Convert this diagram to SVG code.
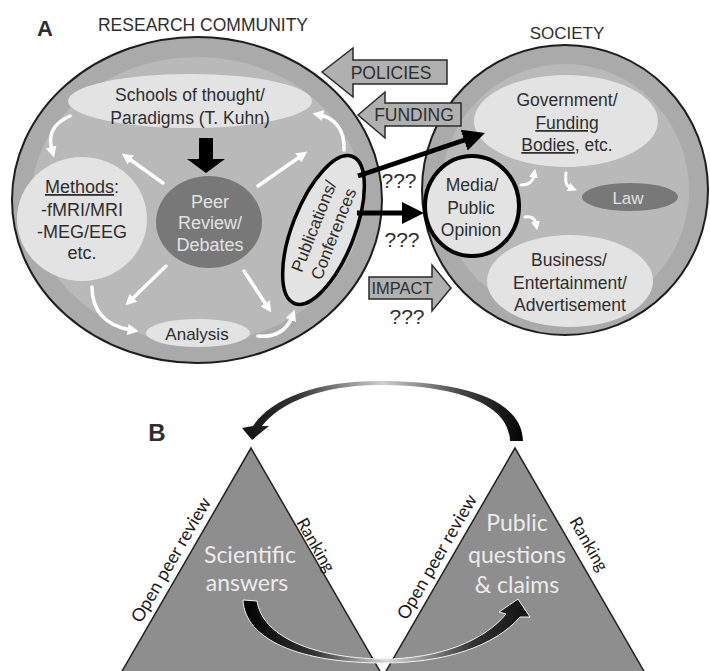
<svg xmlns="http://www.w3.org/2000/svg" width="710" height="671" viewBox="0 0 710 671">
<defs>
<style>
.t{font-family:"Liberation Sans",Arial,sans-serif;fill:#2e2e2e;text-anchor:middle}
.tl{font-family:"Liberation Sans",Arial,sans-serif;fill:#e2e2e2;text-anchor:middle}
.c{font-family:Lato,"Open Sans",sans-serif;text-anchor:middle}
.light{fill:#e3e3e3}
.dark{fill:#787878}
.wa{fill:none;stroke:#fff;stroke-width:3.5;stroke-linecap:round;marker-end:url(#wh)}
.ws{fill:none;stroke:#fff;stroke-width:3;stroke-linecap:round;marker-end:url(#wh2)}
.ba{fill:#b0b0b0;stroke:#2a2a2a;stroke-width:1.5}
.bl{stroke:#000;stroke-width:5;fill:none;marker-end:url(#bk)}
.tri{fill:#8e8e8e;stroke:#222;stroke-width:1.5}
.u{text-decoration:underline}
</style>
<marker id="wh" viewBox="0 0 10 10" refX="3" refY="5" markerWidth="11" markerHeight="11" markerUnits="userSpaceOnUse" orient="auto"><path d="M0,0 L10,5 L0,10 z" fill="#fff"/></marker>
<marker id="wh2" viewBox="0 0 10 10" refX="3" refY="5" markerWidth="9" markerHeight="9" markerUnits="userSpaceOnUse" orient="auto"><path d="M0,0 L10,5 L0,10 z" fill="#fff"/></marker>
<marker id="bk" viewBox="0 0 22 22" refX="2" refY="11" markerWidth="22" markerHeight="22" markerUnits="userSpaceOnUse" orient="auto"><path d="M0,0 L22,11 L0,22 z" fill="#000"/></marker>
<linearGradient id="gTop" gradientUnits="userSpaceOnUse" x1="240" y1="0" x2="525" y2="0">
<stop offset="0" stop-color="#111"/><stop offset="0.2" stop-color="#333"/><stop offset="0.5" stop-color="#cfcfcf"/><stop offset="0.78" stop-color="#444"/><stop offset="1" stop-color="#000"/>
</linearGradient>
<linearGradient id="gBot" gradientUnits="userSpaceOnUse" x1="243" y1="0" x2="530" y2="0">
<stop offset="0" stop-color="#000"/><stop offset="0.25" stop-color="#333"/><stop offset="0.5" stop-color="#d8d8d8"/><stop offset="0.8" stop-color="#333"/><stop offset="1" stop-color="#111"/>
</linearGradient>
</defs>
<rect width="710" height="671" fill="#fff"/>

<text class="t" x="45" y="36" font-size="22" font-weight="bold" fill="#111">A</text>
<text class="t" x="203" y="31" font-size="17.5">RESEARCH COMMUNITY</text>
<text class="t" x="567" y="39" font-size="17">SOCIETY</text>

<g id="research-community">
<ellipse cx="197" cy="200" rx="185" ry="163" fill="#aaaaaa" stroke="#1e1e1e" stroke-width="2"/>
<ellipse cx="197" cy="200" rx="166" ry="143" fill="#b9b9b9"/>
</g>
<g id="society">
<ellipse cx="565" cy="190" rx="143" ry="145" fill="#aaaaaa" stroke="#1e1e1e" stroke-width="2"/>
<ellipse cx="565" cy="190" rx="124" ry="126" fill="#b9b9b9"/>
</g>

<g id="schools">
<ellipse class="light" cx="190" cy="101" rx="122" ry="27"/>
<text class="t" x="190" y="101" font-size="17.5">Schools of thought/</text>
<text class="t" x="190" y="124" font-size="17.5">Paradigms (T. Kuhn)</text>
</g>
<g id="methods">
<ellipse class="light" cx="82" cy="219" rx="65" ry="62"/>
<text class="t" x="82" y="193" font-size="18"><tspan class="u">Methods</tspan>:</text>
<text class="t" x="82" y="216" font-size="18">-fMRI/MRI</text>
<text class="t" x="82" y="238" font-size="18">-MEG/EEG</text>
<text class="t" x="82" y="259" font-size="18">etc.</text>
</g>
<g id="peer-review">
<ellipse class="dark" cx="209" cy="222" rx="53" ry="46"/>
<text class="tl" x="210" y="208" font-size="18">Peer</text>
<text class="tl" x="210" y="229" font-size="18">Review/</text>
<text class="tl" x="210" y="251" font-size="18">Debates</text>
</g>
<g id="analysis">
<ellipse class="light" cx="198" cy="333" rx="52" ry="14"/>
<text class="t" x="197" y="340" font-size="17">Analysis</text>
</g>
<g id="publications" transform="translate(323.5,230) rotate(-68.5)">
<ellipse class="light" cx="0" cy="0" rx="79" ry="31" stroke="#000" stroke-width="3.5"/>
<text class="t" x="0" y="-4.5" font-size="17">Publications/</text>
<text class="t" x="0" y="16.5" font-size="17">Conferences</text>
</g>
<g id="government">
<ellipse class="light" cx="566" cy="121" rx="92" ry="46"/>
<text class="t" x="567" y="106" font-size="17.5">Government/</text>
<text class="t" x="567" y="129" font-size="17.5"><tspan class="u">Funding</tspan></text>
<text class="t" x="567" y="151" font-size="17.5"><tspan class="u">Bodies</tspan>, etc.</text>
</g>
<g id="law">
<ellipse class="dark" cx="630" cy="197" rx="48" ry="14"/>
<text class="tl" x="628" y="204" font-size="17">Law</text>
</g>
<g id="media">
<ellipse class="light" cx="472" cy="206" rx="47" ry="50" stroke="#000" stroke-width="4"/>
<text class="t" x="472" y="191" font-size="17.5">Media/</text>
<text class="t" x="471" y="214" font-size="17.5">Public</text>
<text class="t" x="471" y="236" font-size="17.5">Opinion</text>
</g>
<g id="business">
<ellipse class="light" cx="570" cy="281" rx="83" ry="46"/>
<text class="t" x="569" y="266" font-size="17.5">Business/</text>
<text class="t" x="570" y="289" font-size="17.5">Entertainment/</text>
<text class="t" x="570" y="311" font-size="17.5">Advertisement</text>
</g>

<g id="policies">
<polygon class="ba" points="322,72 353,48 353,60 447,60 447,84 353,84 353,97"/>
<text class="t" x="391" y="79" font-size="17.5">POLICIES</text>
</g>
<g id="funding">
<polygon class="ba" points="358,115 385,92 385,103 461,103 461,126 385,126 385,138"/>
<text class="t" x="414" y="121" font-size="17.5">FUNDING</text>
</g>
<g id="impact">
<polygon class="ba" points="369,277 432,277 432,265 451,288 432,311 432,299 369,299"/>
<text class="t" x="402" y="294" font-size="16.5">IMPACT</text>
</g>

<g id="connectors">
<polygon points="199,138 213,138 213,159 225,159 206,173 187,159 199,159" fill="#000"/>
<path class="wa" d="M70,116 C52,124 48,135 52,150"/>
<path class="wa" d="M163,183 L128,158"/>
<path class="wa" d="M258,186 L301,156"/>
<path class="wa" d="M344,150 C345,130 335,118 320,115"/>
<path class="wa" d="M166,266 L131,300"/>
<path class="wa" d="M244,271 L267,306"/>
<path class="wa" d="M92,287 C92,310 105,326 131,330"/>
<path class="wa" d="M258,336 C275,338 287,330 292,317"/>
<path class="ws" d="M521,185 C530,185 533,181 534,175"/>
<path class="ws" d="M566,173 C565,182 566,186 571,188"/>
<path class="ws" d="M525,217 C532,216 535,219 536,224"/>
<path class="bl" d="M358,176 L466,139.5"/>
<path class="bl" d="M357,213 L404,213"/>
<text class="t" x="399" y="188" font-size="21">???</text>
<text class="t" x="402" y="247" font-size="21">???</text>
<text class="t" x="407" y="324" font-size="21">???</text>
</g>

<text class="t" x="157" y="441" font-size="24" font-weight="bold" fill="#111">B</text>

<g id="science-triangle">
<polygon class="tri" points="251,448 121,673 381,673"/>
<text class="c" x="250" y="563" font-size="23" fill="#ececec">Scientific</text>
<text class="c" x="247" y="591" font-size="23" fill="#ececec">answers</text>
<text class="c" transform="translate(171,560) rotate(-60)" x="0" y="6" font-size="18" fill="#1a1a1a">Open peer review</text>
<text class="c" transform="translate(316,545) rotate(60)" x="0" y="6" font-size="17" fill="#1a1a1a">Ranking</text>
</g>
<g id="public-triangle">
<polygon class="tri" points="515,448 385,673 645,673"/>
<text class="c" x="517" y="531" font-size="23" fill="#ececec">Public</text>
<text class="c" x="517" y="563" font-size="23" fill="#ececec">questions</text>
<text class="c" x="517" y="593" font-size="23" fill="#ececec">&amp; claims</text>
<text class="c" transform="translate(437,557) rotate(-60)" x="0" y="6" font-size="18" fill="#1a1a1a">Open peer review</text>
<text class="c" transform="translate(589,544) rotate(60)" x="0" y="6" font-size="17" fill="#1a1a1a">Ranking</text>
</g>

<g id="b-connectors">
<path d="M510,441 L523,441 C522,397 457,381 380,381 C316,381 271,399 253,426 L242,428 L252,440 L269,426 L262,426 C279,404 319,385 380,385 C452,385 509,402 510,441 Z" fill="url(#gTop)"/>
<path d="M243,600 L257,601 C262,635 310,658 383,659 C440,659 485,640 506,614 L499,612 L518,599 L530,617 L520,617 C495,646 445,663 383,663 C300,663 245,640 243,600 Z" fill="url(#gBot)" stroke="#f2f2f2" stroke-width="1"/>
</g>
</svg>
